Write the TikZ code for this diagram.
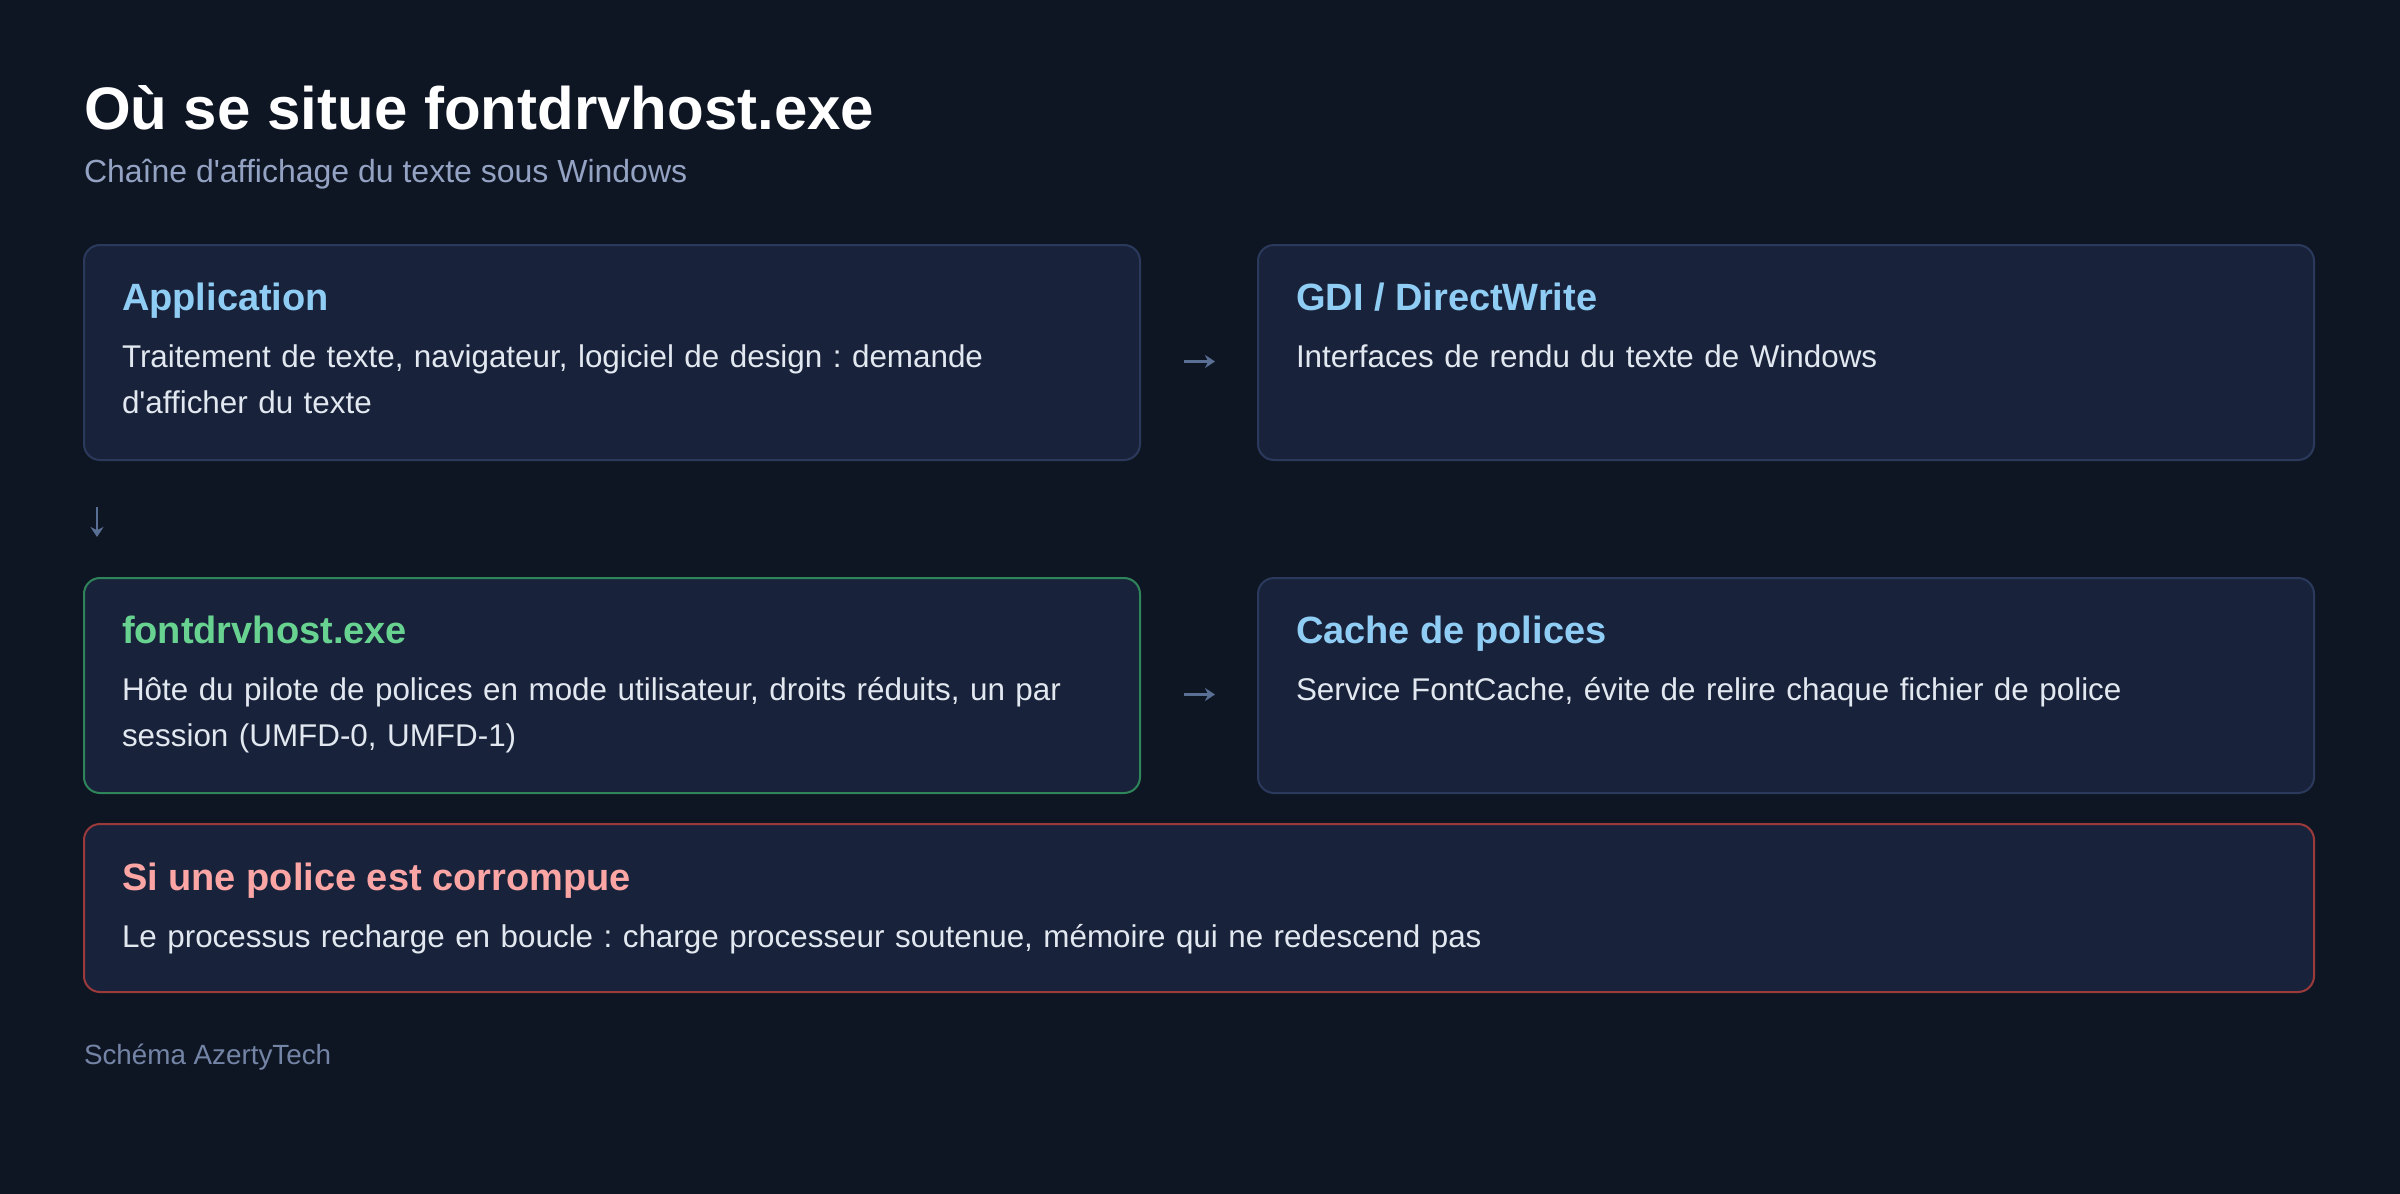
\documentclass[tikz,border=0pt]{standalone}
\usepackage{fontspec}
\setmainfont{Liberation Sans}
\usepackage{tikz}
\usetikzlibrary{arrows.meta,positioning}
\frenchspacing

\definecolor{pagebg}{HTML}{0F1623}
\definecolor{cardbg}{HTML}{18223A}
\definecolor{cardline}{HTML}{2B3A5C}
\definecolor{hostline}{HTML}{2F855A}
\definecolor{failline}{HTML}{9B3A3A}
\definecolor{headblue}{HTML}{90CDF4}
\definecolor{headgreen}{HTML}{68D391}
\definecolor{headred}{HTML}{FCA5A5}
\definecolor{bodytext}{HTML}{E2E8F0}
\definecolor{subtext}{HTML}{94A3C4}
\definecolor{foottext}{HTML}{7484A6}
\definecolor{arrowcol}{HTML}{5A6F94}

\begin{document}
\begin{tikzpicture}[x=0.5pt, y=-0.5pt,
    every node/.append style={inner sep=0pt, outer sep=0pt},
    card/.style={draw=cardline, fill=cardbg, line width=1pt, rounded corners=8pt,
      anchor=north west, minimum width=528pt, minimum height=107.5pt},
    cardtitle/.style={anchor=base west, text=headblue,
      font=\fontsize{19pt}{23pt}\selectfont\bfseries},
    cardtext/.style={anchor=base west, align=left, text width=490pt, text=bodytext,
      font=\fontsize{15.7pt}{23.1pt}\selectfont},
    flow/.style={draw=arrowcol, line width=1.3pt, -{Stealth[length=5pt,width=6.5pt]}}]

  \fill[pagebg] (0,0) rectangle (2400,1194);

  \node (Title)[anchor=base west, text=white, font=\fontsize{30pt}{36pt}\selectfont\bfseries]
    at (84,129) {Où se situe fontdrvhost.exe};
  \node (Subtitle)[anchor=base west, text=subtext, font=\fontsize{16pt}{20pt}\selectfont]
    at (84,182) {Chaîne d\textquotesingle affichage du texte sous Windows};

  \node (App)[card] at (84,245) {};
  \node (GDI)[card] at (1258,245) {};
  \node (Host)[card, draw=hostline] at (84,578) {};
  \node (Cache)[card] at (1258,578) {};
  \node (Corrupt)[card, draw=failline, minimum width=1115pt, minimum height=84pt] at (84,824) {};

  \node (AppHead)[cardtitle] at ([xshift=19pt,yshift=-32.5pt]App.north west) {Application};
  \node (AppText)[cardtext] at ([xshift=19pt,yshift=-61pt]App.north west)
    {Traitement de texte, navigateur, logiciel de design : demande\\d\textquotesingle afficher du texte};

  \node (GDIHead)[cardtitle] at ([xshift=19pt,yshift=-32.5pt]GDI.north west) {GDI / DirectWrite};
  \node (GDIText)[cardtext] at ([xshift=19pt,yshift=-61pt]GDI.north west)
    {Interfaces de rendu du texte de Windows};

  \node (HostHead)[cardtitle, text=headgreen] at ([xshift=19pt,yshift=-32.5pt]Host.north west) {fontdrvhost.exe};
  \node (HostText)[cardtext] at ([xshift=19pt,yshift=-61pt]Host.north west)
    {Hôte du pilote de polices en mode utilisateur, droits réduits, un par\\session (UMFD-0, UMFD-1)};

  \node (CacheHead)[cardtitle] at ([xshift=19pt,yshift=-32.5pt]Cache.north west) {Cache de polices};
  \node (CacheText)[cardtext] at ([xshift=19pt,yshift=-61pt]Cache.north west)
    {Service FontCache, évite de relire chaque fichier de police};

  \node (CorruptHead)[cardtitle, text=headred] at ([xshift=19pt,yshift=-33pt]Corrupt.north west) {Si une police est corrompue};
  \node (CorruptText)[cardtext, text width=1070pt] at ([xshift=19pt,yshift=-61.5pt]Corrupt.north west)
    {Le processus recharge en boucle : charge processeur soutenue, mémoire qui ne redescend pas};

  \draw[flow, shorten <=22pt, shorten >=21.5pt] ([yshift=-4.5pt]App.east) -- ([yshift=-4.5pt]GDI.west);
  \draw[flow, shorten <=22pt, shorten >=21.5pt] ([yshift=-4.5pt]Host.east) -- ([yshift=-4.5pt]Cache.west);
  \draw[flow, shorten <=23.5pt, shorten >=20.5pt] ([xshift=6.5pt]App.south west) -- ([xshift=6.5pt]Host.north west);

  \node (Footer)[anchor=base west, text=foottext, font=\fontsize{13.9pt}{16pt}\selectfont]
    at (84,1064) {Schéma AzertyTech};
\end{tikzpicture}
\end{document}
